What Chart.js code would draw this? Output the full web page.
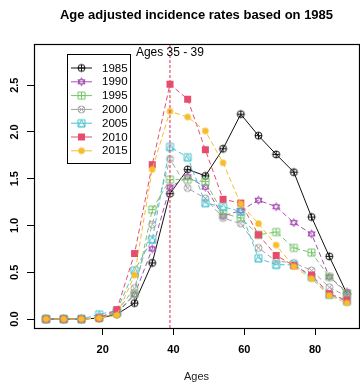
<!DOCTYPE html>
<html>
<head>
<meta charset="utf-8">
<script src="https://cdn.jsdelivr.net/npm/chart.js@4/dist/chart.umd.min.js"></script>
<style>
  html, body { margin: 0; padding: 0; overflow: hidden; background: #fff; }
  canvas { display: block; }
</style>
</head>
<body>
<canvas id="rateChart" width="364" height="385"></canvas>
<script>
// age group upper bounds (0-4, 5-9, ... 85-89)
let ages = [4, 9, 14, 19, 24, 29, 34, 39, 44, 49, 54, 59, 64, 69, 74, 79, 84, 89];
let years = ["1985", "1990", "1995", "2000", "2005", "2010", "2015"];
let rates1985 = [0, 0, 0, 0.01, 0.05, 0.17, 0.60, 1.34, 1.60, 1.53, 1.82, 2.19, 1.96, 1.76, 1.57, 1.09, 0.67, 0.27];
let rates1990 = [0, 0, 0, 0.01, 0.06, 0.26, 0.75, 1.41, 1.52, 1.41, 1.10, 1.16, 1.27, 1.20, 1.03, 0.91, 0.45, 0.29];
let rates1995 = [0, 0, 0, 0.01, 0.07, 0.27, 1.17, 1.49, 1.49, 1.47, 1.13, 1.08, 0.90, 0.93, 0.76, 0.71, 0.45, 0.27];
let rates2000 = [0, 0, 0, 0.02, 0.08, 0.33, 1.01, 1.71, 1.40, 1.29, 1.08, 1.02, 0.76, 0.62, 0.60, 0.52, 0.34, 0.24];
let rates2005 = [0, 0, 0, 0.05, 0.09, 0.52, 0.85, 1.84, 1.73, 1.24, 1.20, 1.15, 0.65, 0.58, 0.58, 0.45, 0.26, 0.19];
let rates2010 = [0, 0, 0, 0.01, 0.10, 0.70, 1.65, 2.51, 2.35, 1.81, 1.28, 1.24, 0.90, 0.68, 0.57, 0.47, 0.27, 0.20];
let rates2015 = [0, 0, 0, 0.01, 0.04, 0.47, 1.60, 2.22, 2.16, 2.01, 1.67, 1.23, 1.02, 0.79, 0.56, 0.43, 0.25, 0.17];
let xTicks = [20, 40, 60, 80];
let yTicks = [0, 0.5, 1, 1.5, 2, 2.5];
let markAge = 39;
let markLabel = "Ages 35 - 39";
let chartTitle = "Age adjusted incidence rates based on 1985";

let allRates = [rates1985, rates1990, rates1995, rates2000, rates2005, rates2010, rates2015];
let colors = ["#111111", "#a54db3", "#76c56a", "#a3a3a3", "#4cc3cf", "#e64c6c", "#f6bd2d"];
let shapes = ["circlePlus", "star", "squarePlus", "circleX", "squareTri", "fillSquare", "fillCircle"];

Chart.defaults.font.family = "'Liberation Sans', Arial, sans-serif";
Chart.defaults.color = "#000";

// little R style point symbols
function makeMarker(kind, color) {
  let c = document.createElement("canvas");
  c.width = 11; c.height = 11;
  let g = c.getContext("2d");
  let m = 5.5, r = 3.5;
  g.strokeStyle = color;
  g.fillStyle = color;
  g.lineWidth = 1;
  g.beginPath();
  if (kind == "circlePlus") {
    g.arc(m, m, r, 0, Math.PI * 2);
    g.moveTo(m - r, m); g.lineTo(m + r, m);
    g.moveTo(m, m - r); g.lineTo(m, m + r);
    g.stroke();
  } else if (kind == "star") {
    g.moveTo(m, m - 4); g.lineTo(m + 3.6, m + 2); g.lineTo(m - 3.6, m + 2); g.closePath();
    g.moveTo(m, m + 4); g.lineTo(m + 3.6, m - 2); g.lineTo(m - 3.6, m - 2); g.closePath();
    g.stroke();
  } else if (kind == "squarePlus") {
    g.rect(m - r, m - r, r * 2, r * 2);
    g.moveTo(m - r, m); g.lineTo(m + r, m);
    g.moveTo(m, m - r); g.lineTo(m, m + r);
    g.stroke();
  } else if (kind == "circleX") {
    g.arc(m, m, r, 0, Math.PI * 2);
    let d = r * 0.72;
    g.moveTo(m - d, m - d); g.lineTo(m + d, m + d);
    g.moveTo(m - d, m + d); g.lineTo(m + d, m - d);
    g.stroke();
  } else if (kind == "squareTri") {
    g.rect(m - r, m - r, r * 2, r * 2);
    g.moveTo(m, m - r); g.lineTo(m + r, m + r); g.lineTo(m - r, m + r); g.closePath();
    g.stroke();
  } else if (kind == "fillSquare") {
    g.fillRect(m - 3.5, m - 3.5, 7, 7);
  } else {
    g.arc(m, m, 3.2, 0, Math.PI * 2);
    g.fill();
  }
  return c;
}

let markers = shapes.map((s, i) => makeMarker(s, colors[i]));

let datasets = years.map(function (year, i) {
  return {
    label: year,
    data: ages.map((a, j) => ({ x: a, y: allRates[i][j] })),
    borderColor: colors[i],
    backgroundColor: colors[i],
    borderWidth: 1,
    borderDash: i == 0 ? [] : [5, 3],
    pointStyle: markers[i],
    pointRadius: 4,
    pointHoverRadius: 4,
    tension: 0,
    order: years.length - i
  };
});

const extras = {
  id: "extras",
  afterDraw(chart) {
    const { ctx, chartArea: area, scales } = chart;
    const xs = scales.x, ys = scales.y;
    ctx.save();

    // box round the plot
    ctx.strokeStyle = "#000";
    ctx.lineWidth = 1.2;
    ctx.strokeRect(area.left + 0.5, area.top + 0.5, area.right - area.left, area.bottom - area.top);

    // title
    ctx.fillStyle = "#000";
    ctx.font = "bold 13px 'Liberation Sans', Arial, sans-serif";
    ctx.textAlign = "center";
    ctx.textBaseline = "middle";
    ctx.fillText(chartTitle, (area.left + area.right) / 2, 15);

    // rotated y tick labels
    ctx.font = "bold 11px 'Liberation Sans', Arial, sans-serif";
    ys.ticks.forEach(function (t) {
      ctx.save();
      ctx.translate(15, ys.getPixelForValue(t.value));
      ctx.rotate(-Math.PI / 2);
      ctx.fillText(t.value.toFixed(1), 0, 0);
      ctx.restore();
    });

    // marked age group
    let mx = xs.getPixelForValue(markAge);
    ctx.strokeStyle = "rgba(230, 76, 108, 0.85)";
    ctx.lineWidth = 1.4;
    ctx.setLineDash([3, 2]);
    ctx.beginPath();
    ctx.moveTo(mx, area.bottom);
    ctx.lineTo(mx, area.top);
    ctx.stroke();
    ctx.setLineDash([]);
    ctx.fillStyle = "#000";
    ctx.font = "12px 'Liberation Sans', Arial, sans-serif";
    ctx.fillText(markLabel, mx, area.top + 9);

    // legend
    let lx = area.left + 33, ly = area.top + 10;
    let lw = 63, lh = 109;
    ctx.strokeStyle = "#000";
    ctx.lineWidth = 1;
    ctx.strokeRect(lx + 0.5, ly + 0.5, lw, lh);
    ctx.font = "11.5px 'Liberation Sans', Arial, sans-serif";
    ctx.textAlign = "left";
    chart.data.datasets.forEach(function (ds, i) {
      let yy = ly + 14 + i * 13.8;
      ctx.strokeStyle = ds.borderColor;
      ctx.beginPath();
      ctx.moveTo(lx + 4, yy);
      ctx.lineTo(lx + 25, yy);
      ctx.stroke();
      ctx.drawImage(ds.pointStyle, lx + 14.5 - 5.5, yy - 5.5);
      ctx.fillStyle = "#000";
      ctx.fillText(ds.label, lx + 35, yy + 0.5);
    });
    ctx.restore();
  }
};

new Chart(document.getElementById("rateChart"), {
  type: "line",
  data: { datasets: datasets },
  options: {
    responsive: false,
    animation: false,
    layout: { padding: { top: 44, right: 2.3, left: 0, bottom: 0 } },
    plugins: { legend: { display: false }, title: { display: false }, tooltip: { enabled: false } },
    scales: {
      x: {
        type: "linear",
        min: 0.6,
        max: 92.4,
        afterBuildTicks: s => { s.ticks = xTicks.map(v => ({ value: v })); },
        afterFit: s => { s.height = 57; },
        grid: { drawOnChartArea: false, drawTicks: true, tickLength: 7, color: "#000" },
        border: { display: false },
        ticks: { padding: 8, font: { size: 11, weight: "bold" }, color: "#000", maxRotation: 0 },
        title: { display: true, text: "Ages", font: { size: 11 }, color: "#222", padding: { top: 0, bottom: 1 } }
      },
      y: {
        type: "linear",
        min: -0.096,
        max: 2.94,
        afterBuildTicks: s => { s.ticks = yTicks.map(v => ({ value: v })); },
        afterFit: s => { s.width = 34; },
        grid: { drawOnChartArea: false, drawTicks: true, tickLength: 7, color: "#000" },
        border: { display: false },
        ticks: { display: false }
      }
    }
  },
  plugins: [extras]
});
</script>
</body>
</html>
